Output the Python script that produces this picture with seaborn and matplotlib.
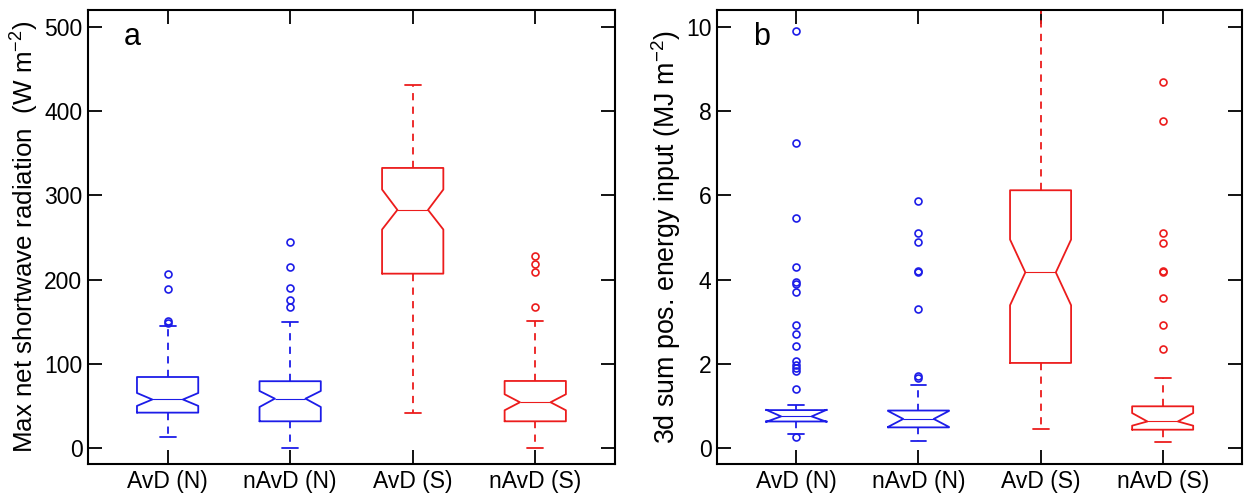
import matplotlib
matplotlib.use("Agg")
import matplotlib.pyplot as plt
import seaborn as sns

# groups on the x axis
groups = ["AvD (N)", "nAvD (N)", "AvD (S)", "nAvD (S)"]
box_colors = ["#1c1ce8", "#1c1ce8", "#ec1c1c", "#ec1c1c"]

# panel a: max net shortwave radiation (W m-2)
a_med = [57.6, 58.6, 282.7, 54.3]
a_q1 = [42.0, 31.7, 207.0, 31.7]
a_q3 = [84.3, 79.3, 332.5, 79.6]
a_cilo = [50.0, 48.7, 259.4, 44.8]
a_cihi = [65.3, 67.7, 306.9, 63.8]
a_whislo = [13.0, 0.0, 41.6, 0.0]
a_whishi = [145.0, 149.6, 430.4, 150.5]
a_fliers = [
    [148, 151, 189, 207],
    [167, 176, 190, 215, 244],
    [],
    [167, 209, 218.5, 227.5],
]

# panel b: 3 day sum of positive energy input (MJ m-2)
b_med = [0.75, 0.69, 4.17, 0.63]
b_q1 = [0.63, 0.49, 2.02, 0.435]
b_q3 = [0.90, 0.89, 6.12, 0.99]
b_cilo = [0.62, 0.50, 3.39, 0.53]
b_cihi = [0.91, 0.88, 4.95, 0.83]
b_whislo = [0.34, 0.17, 0.46, 0.14]
b_whishi = [1.01, 1.50, 11.5, 1.66]
b_fliers = [
    [0.26, 1.40, 1.84, 1.90, 1.96, 2.06, 2.42, 2.71, 2.93, 3.71, 3.90, 3.93, 4.29, 5.47, 7.24, 9.89],
    [1.66, 1.70, 3.30, 4.18, 4.21, 4.90, 5.11, 5.87],
    [],
    [2.36, 2.93, 3.56, 4.18, 4.21, 4.86, 5.11, 7.76, 8.70],
]

sns.set_style("ticks")
plt.rcParams["font.family"] = ["Liberation Sans", "DejaVu Sans"]
plt.rcParams["mathtext.default"] = "regular"
# plain black text and frame like the original
for k in ["text.color", "axes.labelcolor", "xtick.color", "ytick.color", "axes.edgecolor"]:
    plt.rcParams[k] = "black"


def make_stats(med, q1, q3, cilo, cihi, wlo, whi, fl):
    out = []
    for i in range(len(med)):
        out.append(dict(med=med[i], q1=q1[i], q3=q3[i], cilo=cilo[i], cihi=cihi[i],
                        whislo=wlo[i], whishi=whi[i], fliers=fl[i], label=groups[i]))
    return out


def draw_panel(ax, stats, ymax, yticks, ylabel, lsize, letter):
    for i, st in enumerate(stats):
        c = box_colors[i]
        ax.bxp([st], positions=[i + 1], widths=0.5, shownotches=True, capwidths=0.13,
               boxprops=dict(color=c, linewidth=1.3),
               medianprops=dict(color=c, linewidth=0.8),
               whiskerprops=dict(color=c, linewidth=1.3, linestyle=(0, (4, 3.5))),
               capprops=dict(color=c, linewidth=1.3),
               flierprops=dict(marker="o", markerfacecolor="none", markeredgecolor=c,
                               markersize=5, markeredgewidth=1.2, linestyle="none"))
    ax.set_xlim(0.35, 4.65)
    ax.set_ylim(-0.038 * ymax, 1.04 * ymax)
    ax.set_xticks(range(1, 5))
    ax.set_xticklabels(groups)
    ax.set_yticks(yticks)
    ax.tick_params(direction="in", length=10, width=1.3, labelsize=16.5,
                   top=True, right=True, pad=4)
    for s in ax.spines.values():
        s.set_linewidth(1.5)
    ax.set_ylabel(ylabel, fontsize=lsize, labelpad=2)
    ax.text(0.085, 0.94, letter, transform=ax.transAxes, fontsize=22,
            ha="center", va="center")


fig = plt.figure(figsize=(12.44, 4.93), dpi=100)
ax1 = fig.add_axes([0.0707, 0.0588, 0.4236, 0.9209])
ax2 = fig.add_axes([0.5764, 0.0588, 0.422, 0.9209])

draw_panel(ax1, make_stats(a_med, a_q1, a_q3, a_cilo, a_cihi, a_whislo, a_whishi, a_fliers),
           500, [0, 100, 200, 300, 400, 500],
           "Max net shortwave radiation  (W m$^{-2}$)", 18.7, "a")
draw_panel(ax2, make_stats(b_med, b_q1, b_q3, b_cilo, b_cihi, b_whislo, b_whishi, b_fliers),
           10, [0, 2, 4, 6, 8, 10],
           "3d sum pos. energy input (MJ m$^{-2}$)", 19.3, "b")

fig.savefig("out.png", dpi=100)
